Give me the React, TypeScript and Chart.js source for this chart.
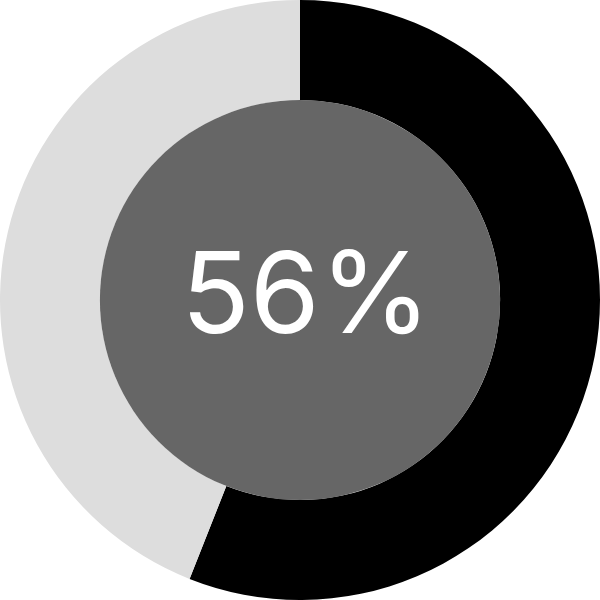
import { useEffect, useRef } from "react";
import Chart from "chart.js/auto";

// Donut progress gauge: filled share starts at 12 o'clock and runs clockwise.
const SEGMENT_LABELS = ["Done", "Remaining"];
const SEGMENT_VALUES = [56, 44];
const SEGMENT_COLORS = ["#000000", "#dddddd"];
const CENTER_TEXT = "56%";

const FONT = 'Inter, "Noto Sans", sans-serif';

export default function App() {
  const canvasRef = useRef<HTMLCanvasElement>(null);

  useEffect(() => {
    const ctx = canvasRef.current?.getContext("2d");
    if (!ctx) return;

    // Gray disc in the hole plus the big percentage label.
    const centerFill = {
      id: "centerFill",
      afterDatasetsDraw(chart: Chart) {
        const arc = chart.getDatasetMeta(0).data[0] as any;
        if (!arc) return;
        const { x, y, innerRadius } = arc.getProps(["x", "y", "innerRadius"], true);
        const c = chart.ctx;
        c.save();
        c.beginPath();
        c.arc(x, y, innerRadius, 0, Math.PI * 2);
        c.fillStyle = "#666666";
        c.fill();
        c.fillStyle = "#ffffff";
        c.font = `113px ${FONT}`;
        c.textAlign = "center";
        c.textBaseline = "alphabetic";
        c.fillText(CENTER_TEXT, x + 6, y + 33);
        c.restore();
      },
    };

    const chart = new Chart(ctx, {
      type: "doughnut",
      data: {
        labels: SEGMENT_LABELS,
        datasets: [{
          data: SEGMENT_VALUES,
          backgroundColor: SEGMENT_COLORS,
          borderWidth: 0,
        }],
      },
      options: {
        responsive: false,
        animation: false,
        cutout: "66.7%",
        layout: { padding: 0 },
        plugins: { legend: { display: false }, tooltip: { enabled: false } },
      },
      plugins: [centerFill],
    });
    return () => chart.destroy();
  }, []);

  return (
    <div style={{ position: "fixed", top: 0, left: 0, width: 600, height: 600, background: "#ffffff" }}>
      <canvas ref={canvasRef} width={600} height={600} style={{ width: 600, height: 600 }} />
    </div>
  );
}
